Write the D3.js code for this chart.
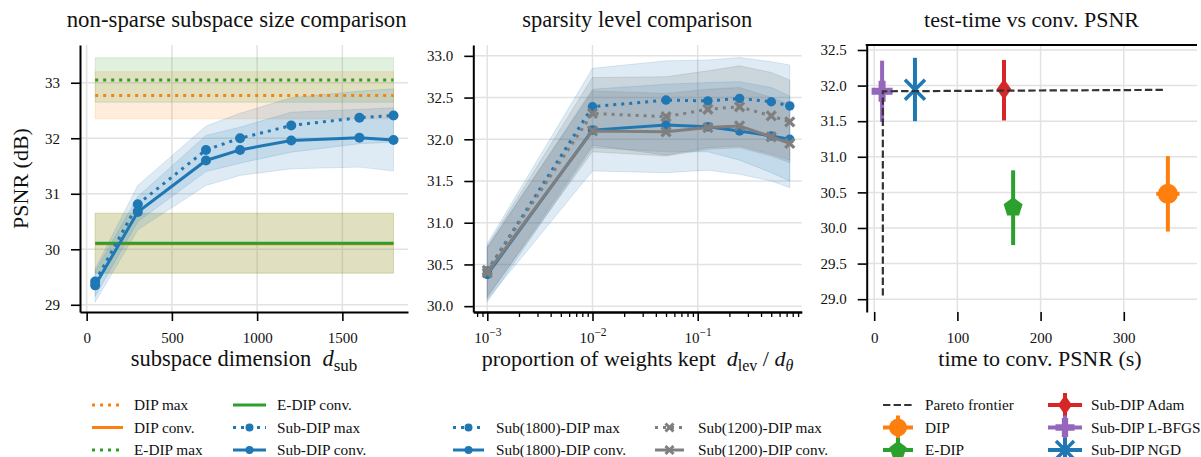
<!DOCTYPE html>
<html>
<head>
<meta charset="utf-8">
<title>Sub-DIP comparison</title>
<script src="https://cdn.jsdelivr.net/npm/d3@7"></script>
<style>
  body { margin: 0; background: #fff; }
  svg text { font-family: 'Liberation Serif', 'DejaVu Serif', serif !important; fill: #111; white-space: pre; }
  .grid line { stroke: #e2e2e2; stroke-width: 1.5; }
</style>
</head>
<body>
<script>
// ---- panel 1: non-sparse subspace size
var subDims   = [50, 300, 700, 900, 1200, 1600, 1800];
var subMax    = [29.42, 30.81, 31.79, 32.00, 32.23, 32.37, 32.41];
var subMaxLo  = [29.15, 30.50, 31.40, 31.55, 31.75, 31.90, 31.93];
var subMaxHi  = [29.65, 31.15, 32.22, 32.45, 32.73, 32.85, 32.89];
var subConv   = [29.35, 30.67, 31.60, 31.79, 31.96, 32.01, 31.97];
var subConvLo = [29.05, 30.35, 31.15, 31.33, 31.45, 31.48, 31.41];
var subConvHi = [29.60, 30.95, 32.05, 32.20, 32.47, 32.52, 32.55];
var dimRange  = [50, 1800];
var dipMax    = [32.77, 32.35, 33.20];   // value, low, high
var dipConv   = [30.10, 29.57, 30.65];
var edipMax   = [33.05, 32.65, 33.45];
var edipConv  = [30.11, 29.57, 30.65];

// ---- panel 2: sparsity level
var keptFrac   = [0.001, 0.01, 0.05, 0.125, 0.25, 0.5, 0.75];
var s1800Max   = [30.42, 32.39, 32.47, 32.46, 32.49, 32.45, 32.40];
var s1800MaxLo = [30.08, 31.62, 31.60, 31.63, 31.58, 31.50, 31.42];
var s1800MaxHi = [30.75, 32.85, 32.94, 32.95, 32.98, 32.93, 32.89];
var s1800Conv   = [30.38, 32.11, 32.17, 32.15, 32.10, 32.04, 32.00];
var s1800ConvLo = [30.05, 31.90, 31.85, 31.85, 31.75, 31.60, 31.50];
var s1800ConvHi = [30.70, 32.60, 32.66, 32.68, 32.69, 32.62, 32.52];
var s1200Max   = [30.43, 32.31, 32.27, 32.36, 32.39, 32.28, 32.21];
var s1200MaxLo = [30.12, 31.85, 31.80, 31.88, 31.90, 31.80, 31.72];
var s1200MaxHi = [30.72, 32.74, 32.75, 32.82, 32.88, 32.80, 32.71];
var s1200Conv   = [30.40, 32.10, 32.09, 32.14, 32.16, 32.03, 31.95];
var s1200ConvLo = [30.10, 31.93, 31.81, 31.90, 31.92, 31.82, 31.75];
var s1200ConvHi = [30.70, 32.58, 32.55, 32.60, 32.62, 32.50, 32.42];

// ---- panel 3: test-time vs conv. PSNR
var methods     = ["DIP", "E-DIP", "Sub-DIP Adam", "Sub-DIP L-BFGS", "Sub-DIP NGD"];
var convTime    = [353, 167, 156, 9.5, 49];
var convTimeErr = [14, 3, 3, 2, 3];
var convPsnr    = [30.48, 30.29, 31.95, 31.92, 31.94];
var convPsnrLo  = [29.95, 29.76, 31.51, 31.49, 31.50];
var convPsnrHi  = [31.01, 30.81, 32.36, 32.35, 32.39];
var paretoTime  = [10.4, 10.4, 350];
var paretoPsnr  = [29.05, 31.92, 31.94];

// ticks
var p1XTicks = [0, 500, 1000, 1500];
var p1YTicks = [29, 30, 31, 32, 33];
var p2XTicks = [1e-3, 1e-2, 1e-1];
var p2YTicks = [30.0, 30.5, 31.0, 31.5, 32.0, 32.5, 33.0];
var p3XTicks = [0, 100, 200, 300];
var p3YTicks = [29.0, 29.5, 30.0, 30.5, 31.0, 31.5, 32.0, 32.5];

var C = { blue: "#1f77b4", orange: "#ff7f0e", green: "#2ca02c", red: "#d62728",
          purple: "#9467bd", gray: "#7f7f7f" };
var SERIF = "'Liberation Serif', 'DejaVu Serif', serif";

var svg = d3.select("body").append("svg").attr("width", 1201).attr("height", 457);

var f1 = { l: 80, t: 45, r: 408, b: 312 },
    f2 = { l: 473.3, t: 45, r: 801.7, b: 312 },
    f3 = { l: 866.7, t: 45, r: 1197, b: 312 };

var x1 = d3.scaleLinear().domain([-39, 1885]).range([f1.l, f1.r]),
    y1 = d3.scaleLinear().domain([28.87, 33.68]).range([f1.b, f1.t]),
    x2 = d3.scaleLog().domain([7.36e-4, 0.974]).range([f2.l, f2.r]),
    y2 = d3.scaleLinear().domain([29.93, 33.13]).range([f2.b, f2.t]),
    x3 = d3.scaleLinear().domain([-9, 388]).range([f3.l, f3.r]),
    y3 = d3.scaleLinear().domain([28.82, 32.57]).range([f3.b, f3.t]);

// helpers
function grid(xs, xt, ys, yt, f) {
  var g = svg.append("g").attr("class", "grid");
  g.selectAll(null).data(xt).enter().append("line")
    .attr("x1", d => xs(d)).attr("x2", d => xs(d)).attr("y1", f.t).attr("y2", f.b);
  g.selectAll(null).data(yt).enter().append("line")
    .attr("y1", d => ys(d)).attr("y2", d => ys(d)).attr("x1", f.l).attr("x2", f.r);
}

function band(xv, lo, hi, xs, ys, color, op) {
  var area = d3.area().x(i => xs(xv[i])).y0(i => ys(lo[i])).y1(i => ys(hi[i]));
  svg.append("path").attr("d", area(d3.range(xv.length)))
    .attr("fill", color).attr("fill-opacity", op)
    .attr("stroke", color).attr("stroke-opacity", op).attr("stroke-width", 1);
}

function line(xv, yv, xs, ys, color, dash, w) {
  var ln = d3.line().x(i => xs(xv[i])).y(i => ys(yv[i]));
  svg.append("path").attr("d", ln(d3.range(xv.length)))
    .attr("fill", "none").attr("stroke", color).attr("stroke-width", w || 3)
    .attr("stroke-dasharray", dash);
}

function markerPath(type, s) {
  var p = d3.path(), r = s / 2;
  if (type === "circle") { p.arc(0, 0, r, 0, 2 * Math.PI); }
  else if (type === "pentagon") {
    for (var i = 0; i < 5; i++) {
      var a = -Math.PI / 2 + i * 2 * Math.PI / 5;
      if (i === 0) p.moveTo(r * Math.cos(a), r * Math.sin(a)); else p.lineTo(r * Math.cos(a), r * Math.sin(a));
    }
    p.closePath();
  }
  else if (type === "diamond") {
    p.moveTo(0, -r); p.lineTo(r * 0.7, 0); p.lineTo(0, r); p.lineTo(-r * 0.7, 0); p.closePath();
  }
  else if (type === "plus") {
    var a = s / 6, b = s / 2;
    p.moveTo(-a, -b); p.lineTo(a, -b); p.lineTo(a, -a); p.lineTo(b, -a); p.lineTo(b, a); p.lineTo(a, a);
    p.lineTo(a, b); p.lineTo(-a, b); p.lineTo(-a, a); p.lineTo(-b, a); p.lineTo(-b, -a); p.lineTo(-a, -a); p.closePath();
  }
  else if (type === "x") {
    p.moveTo(-r, -r); p.lineTo(r, r); p.moveTo(-r, r); p.lineTo(r, -r);
  }
  return p.toString();
}

function marker(g, type, s, color, cx, cy, sw) {
  var m = g.append("path").attr("d", markerPath(type, s))
    .attr("transform", "translate(" + cx + "," + cy + ")");
  if (type === "x") m.attr("fill", "none").attr("stroke", color).attr("stroke-width", sw || 3);
  else m.attr("fill", color);
}

function markers(xv, yv, xs, ys, type, s, color, sw) {
  var g = svg.append("g");
  xv.forEach(function (d, i) { marker(g, type, s, color, xs(d), ys(yv[i]), sw); });
}

function styleAxis(g, size) {
  g.attr("font-family", SERIF).attr("font-size", size || 15);
  g.selectAll(".domain").attr("stroke", "#000").attr("stroke-width", 2);
  g.selectAll(".tick line").attr("stroke", "#000").attr("stroke-width", 1.6);
  g.selectAll(".tick text").attr("font-family", SERIF).style("font-family", SERIF)
    .attr("font-size", size || 15).attr("fill", "#111");
}

function title(txt, cx, size) {
  svg.append("text").attr("x", cx).attr("y", 27).attr("text-anchor", "middle")
    .attr("font-size", size || 22).text(txt);
}

// ================= panel 1 =================
grid(x1, p1XTicks, y1, p1YTicks, f1);
band(dimRange, [dipMax[1], dipMax[1]], [dipMax[2], dipMax[2]], x1, y1, C.orange, 0.15);
band(dimRange, [dipConv[1], dipConv[1]], [dipConv[2], dipConv[2]], x1, y1, C.orange, 0.15);
band(dimRange, [edipMax[1], edipMax[1]], [edipMax[2], edipMax[2]], x1, y1, C.green, 0.15);
band(dimRange, [edipConv[1], edipConv[1]], [edipConv[2], edipConv[2]], x1, y1, C.green, 0.15);
band(subDims, subMaxLo, subMaxHi, x1, y1, C.blue, 0.15);
band(subDims, subConvLo, subConvHi, x1, y1, C.blue, 0.15);
line(dimRange, [dipMax[0], dipMax[0]], x1, y1, C.orange, "3,5");
line(dimRange, [dipConv[0], dipConv[0]], x1, y1, C.orange);
line(dimRange, [edipMax[0], edipMax[0]], x1, y1, C.green, "3,5");
line(dimRange, [edipConv[0], edipConv[0]], x1, y1, C.green);
line(subDims, subMax, x1, y1, C.blue, "3,5");
markers(subDims, subMax, x1, y1, "circle", 10, C.blue);
line(subDims, subConv, x1, y1, C.blue);
markers(subDims, subConv, x1, y1, "circle", 10, C.blue);

var ax = svg.append("g").attr("transform", "translate(0," + f1.b + ")")
  .call(d3.axisBottom(x1).tickValues(p1XTicks).tickSize(9).tickPadding(11).tickSizeOuter(0).tickFormat(d3.format("d")));
styleAxis(ax);
ax = svg.append("g").attr("transform", "translate(" + f1.l + ",0)")
  .call(d3.axisLeft(y1).tickValues(p1YTicks).tickSize(9).tickPadding(11).tickSizeOuter(0).tickFormat(d3.format("d")));
styleAxis(ax);

title("non-sparse subspace size comparison", 236.7, 22.8);
var xl = svg.append("text").attr("x", (f1.l + f1.r) / 2).attr("y", 366).attr("text-anchor", "middle").attr("font-size", 22.5);
xl.append("tspan").text("subspace dimension  ");
xl.append("tspan").attr("font-style", "italic").text("d");
xl.append("tspan").attr("font-size", 17).attr("dy", 5).text("sub");
svg.append("text").attr("transform", "translate(28," + (f1.t + f1.b) / 2 + ") rotate(-90)")
  .attr("text-anchor", "middle").attr("font-size", 22).text("PSNR (dB)");

// ================= panel 2 =================
grid(x2, p2XTicks, y2, p2YTicks, f2);
band(keptFrac, s1800MaxLo, s1800MaxHi, x2, y2, C.blue, 0.15);
band(keptFrac, s1800ConvLo, s1800ConvHi, x2, y2, C.blue, 0.15);
band(keptFrac, s1200MaxLo, s1200MaxHi, x2, y2, C.gray, 0.2);
band(keptFrac, s1200ConvLo, s1200ConvHi, x2, y2, C.gray, 0.2);
line(keptFrac, s1800Max, x2, y2, C.blue, "3,5");
markers(keptFrac, s1800Max, x2, y2, "circle", 9.5, C.blue);
line(keptFrac, s1800Conv, x2, y2, C.blue);
markers(keptFrac, s1800Conv, x2, y2, "circle", 9.5, C.blue);
line(keptFrac, s1200Max, x2, y2, C.gray, "3,5");
markers(keptFrac, s1200Max, x2, y2, "x", 9, C.gray, 3.2);
line(keptFrac, s1200Conv, x2, y2, C.gray);
markers(keptFrac, s1200Conv, x2, y2, "x", 9, C.gray, 3.2);

var minor = x2.ticks().filter(d => p2XTicks.indexOf(d) < 0);
ax = svg.append("g").attr("transform", "translate(0," + f2.b + ")")
  .call(d3.axisBottom(x2).tickValues(minor).tickSize(5).tickFormat("").tickSizeOuter(0));
styleAxis(ax);
ax.selectAll(".tick line").attr("stroke-width", 1.3);
ax = svg.append("g").attr("transform", "translate(0," + f2.b + ")")
  .call(d3.axisBottom(x2).tickValues(p2XTicks).tickSize(9).tickPadding(11).tickSizeOuter(0).tickFormat(""));
styleAxis(ax);
ax.selectAll(".tick text").each(function (d) {
  var t = d3.select(this), k = Math.round(Math.log10(d));
  t.append("tspan").text("10");
  t.append("tspan").attr("dy", -7).attr("font-size", 11.5).text("\u2212" + Math.abs(k));
});
ax = svg.append("g").attr("transform", "translate(" + f2.l + ",0)")
  .call(d3.axisLeft(y2).tickValues(p2YTicks).tickSize(9).tickPadding(11).tickSizeOuter(0).tickFormat(d3.format(".1f")));
styleAxis(ax);

title("sparsity level comparison", 637.3, 22.5);
xl = svg.append("text").attr("x", (f2.l + f2.r) / 2).attr("y", 366).attr("text-anchor", "middle").attr("font-size", 22);
xl.append("tspan").text("proportion of weights kept  ");
xl.append("tspan").attr("font-style", "italic").text("d");
xl.append("tspan").attr("font-size", 16).attr("dy", 5).text("lev");
xl.append("tspan").attr("dy", -5).text(" / ");
xl.append("tspan").attr("font-style", "italic").text("d");
xl.append("tspan").attr("font-size", 16).attr("font-style", "italic").attr("dy", 5).text("\u03b8");

// ================= panel 3 =================
grid(x3, p3XTicks, y3, p3YTicks, f3);
var mTypes = ["circle", "pentagon", "diamond", "plus", "x"],
    mColors = [C.orange, C.green, C.red, C.purple, C.blue],
    mSizes = [20, 20, 21, 21, 20];
var pg = svg.append("g");
methods.forEach(function (m, i) {
  pg.append("line").attr("x1", x3(convTime[i])).attr("x2", x3(convTime[i]))
    .attr("y1", y3(convPsnrLo[i])).attr("y2", y3(convPsnrHi[i]))
    .attr("stroke", mColors[i]).attr("stroke-width", 4);
  pg.append("line").attr("x1", x3(convTime[i] - convTimeErr[i])).attr("x2", x3(convTime[i] + convTimeErr[i]))
    .attr("y1", y3(convPsnr[i])).attr("y2", y3(convPsnr[i]))
    .attr("stroke", mColors[i]).attr("stroke-width", 4);
  marker(pg, mTypes[i], mSizes[i], mColors[i], x3(convTime[i]), y3(convPsnr[i]), 3.5);
});
line(paretoTime, paretoPsnr, x3, y3, "#333", "7.4,3.2", 2.2);

ax = svg.append("g").attr("transform", "translate(0," + f3.b + ")")
  .call(d3.axisBottom(x3).tickValues(p3XTicks).tickSize(9).tickPadding(11).tickSizeOuter(0).tickFormat(d3.format("d")));
styleAxis(ax);
ax.select(".domain").remove();
ax = svg.append("g").attr("transform", "translate(" + f3.l + ",0)")
  .call(d3.axisLeft(y3).tickValues(p3YTicks).tickSize(9).tickPadding(11).tickSizeOuter(0).tickFormat(d3.format(".1f")));
styleAxis(ax);
svg.append("line").attr("x1", f3.l - 1).attr("x2", f3.r).attr("y1", f3.t).attr("y2", f3.t)
  .attr("stroke", "#000").attr("stroke-width", 2);

title("test-time vs conv. PSNR", 1031.5);
svg.append("text").attr("x", 1040).attr("y", 366).attr("text-anchor", "middle").attr("font-size", 22)
  .text("time to conv. PSNR (s)");

// ================= legends =================
function legendEntry(x0, x1, tx, y, label, draw) {
  var g = svg.append("g");
  draw(g, x0, x1, (x0 + x1) / 2, y);
  svg.append("text").attr("x", tx).attr("y", y).attr("dy", "0.35em").attr("font-size", 15.3).text(label);
}
function hline(color, dash, w) {
  return function (g, x0, x1, cx, y) {
    g.append("line").attr("x1", x0).attr("x2", x1).attr("y1", y).attr("y2", y)
      .attr("stroke", color).attr("stroke-width", w || 3).attr("stroke-dasharray", dash);
  };
}
function hlineMarker(color, dash, type, s, sw) {
  return function (g, x0, x1, cx, y) {
    hline(color, dash)(g, x0, x1, cx, y);
    marker(g, type, s, color, cx, y, sw);
  };
}
function errHandle(color, type, s) {
  return function (g, x0, x1, cx, y) {
    hline(color, null, 4)(g, x0, x1, cx, y);
    g.append("line").attr("x1", cx).attr("x2", cx).attr("y1", y - 12).attr("y2", y + 12)
      .attr("stroke", color).attr("stroke-width", 4);
    marker(g, type, s, color, cx, y, 3.5);
  };
}

var r1 = [405, 427.5, 450];
legendEntry(92, 123, 134, r1[0], "DIP max", hline(C.orange, "3,5"));
legendEntry(92, 123, 134, r1[1], "DIP conv.", hline(C.orange));
legendEntry(92, 123, 134, r1[2], "E-DIP max", hline(C.green, "3,5"));
legendEntry(233, 266, 277, r1[0], "E-DIP conv.", hline(C.green));
legendEntry(233, 266, 277, r1[1], "Sub-DIP max", hlineMarker(C.blue, "3,5", "circle", 8));
legendEntry(233, 266, 277, r1[2], "Sub-DIP conv.", hlineMarker(C.blue, null, "circle", 8));

legendEntry(453, 484, 496, r1[1], "Sub(1800)-DIP max", hlineMarker(C.blue, "3,5", "circle", 8));
legendEntry(453, 484, 496, r1[2], "Sub(1800)-DIP conv.", hlineMarker(C.blue, null, "circle", 8));
legendEntry(655, 684, 698, r1[1], "Sub(1200)-DIP max", hlineMarker(C.gray, "3,5", "x", 8, 3));
legendEntry(655, 684, 698, r1[2], "Sub(1200)-DIP conv.", hlineMarker(C.gray, null, "x", 8, 3));

legendEntry(883, 913, 925, r1[0], "Pareto frontier", hline("#333", "7.4,3.2", 2.2));
legendEntry(883, 913, 925, r1[1], methods[0], errHandle(mColors[0], mTypes[0], 18));
legendEntry(883, 913, 925, r1[2], methods[1], errHandle(mColors[1], mTypes[1], 18));
legendEntry(1048, 1082, 1091, r1[0], methods[2], errHandle(mColors[2], mTypes[2], 20));
legendEntry(1048, 1082, 1091, r1[1], methods[3], errHandle(mColors[3], mTypes[3], 19));
legendEntry(1048, 1082, 1091, r1[2], methods[4], errHandle(mColors[4], mTypes[4], 18));
</script>
</body>
</html>
